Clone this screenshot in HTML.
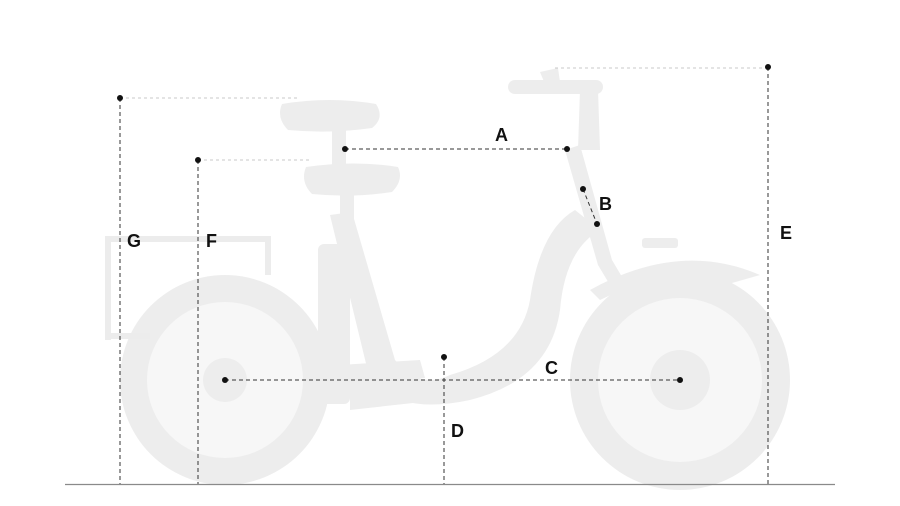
<!DOCTYPE html>
<html><head><style>
html,body{margin:0;padding:0;background:#fff;}
svg{display:block}
text{font-family:"Liberation Sans",sans-serif;font-weight:bold;font-size:18px;fill:#111}
</style></head><body>
<svg width="900" height="506" viewBox="0 0 900 506" xmlns="http://www.w3.org/2000/svg">
<g fill="#ededed" stroke="none">
  <!-- rear wheel -->
  <circle cx="225" cy="380" r="105"/>
  <!-- front wheel -->
  <circle cx="680" cy="380" r="110"/>
  <!-- front fender -->
  <path d="M590 290 Q680 240 760 275 L725 285 Q670 265 600 300 Z"/>
  <!-- battery -->
  <rect x="318" y="244" width="32" height="160" rx="6"/>
  <!-- frame -->
  <path d="M330 215 L352 212 L395 360 Q420 390 450 375 Q520 355 530 300 Q540 230 575 210 L600 230 Q565 250 560 310 Q550 380 470 400 Q400 415 370 380 Z"/>
  <path d="M350 380 L440 385 L440 400 L350 410 Z"/>
  <path d="M225 372 L420 360 L425 378 L225 390 Z"/>
  <!-- head tube / fork -->
  <path d="M565 150 L580 145 L612 260 L680 375 L670 385 L598 265 Z"/>
  <path d="M580 90 L598 90 L600 150 L578 150 Z"/>
  <!-- handlebar -->
  <rect x="508" y="80" width="95" height="14" rx="7"/>
  <path d="M540 72 L558 68 L560 82 L545 84 Z"/>
  <rect x="642" y="238" width="36" height="10" rx="3"/>
  <!-- seats -->
  <path d="M282 104 Q330 96 376 104 Q385 118 372 128 Q330 134 288 130 Q276 118 282 104 Z"/>
  <path d="M306 167 Q355 160 398 167 Q404 180 392 192 Q352 198 312 194 Q300 182 306 167 Z"/>
  <rect x="332" y="128" width="14" height="40"/>
  <rect x="340" y="192" width="14" height="60"/>
</g>
<g fill="#f7f7f7">
  <circle cx="225" cy="380" r="78"/>
  <circle cx="680" cy="380" r="82"/>
</g>
<g fill="#ededed">
  <circle cx="225" cy="380" r="22"/>
  <circle cx="680" cy="380" r="30"/>
</g>
<!-- rear rack outline -->
<g fill="none" stroke="#ececec" stroke-width="6">
  <path d="M108 340 L108 239 L268 239 L268 275"/>
  <line x1="108" y1="336" x2="150" y2="336"/>
</g>
<g stroke="#c8c8c8" stroke-width="1" stroke-dasharray="3,3" fill="none">
  <line x1="120" y1="98" x2="300" y2="98"/>
  <line x1="198" y1="160" x2="310" y2="160"/>
  <line x1="555" y1="68" x2="768" y2="68"/>
</g>
<g stroke="#333" stroke-width="1" stroke-dasharray="4,3" fill="none">
  <line x1="120" y1="98" x2="120" y2="484"/>
  <line x1="198" y1="160" x2="198" y2="484"/>
  <line x1="345" y1="149" x2="567" y2="149"/>
  <line x1="583" y1="189" x2="597" y2="224"/>
  <line x1="225" y1="380" x2="680" y2="380"/>
  <line x1="444" y1="357" x2="444" y2="484"/>
  <line x1="768" y1="67" x2="768" y2="484"/>
</g>
<line x1="65" y1="484.5" x2="835" y2="484.5" stroke="#8a8a8a" stroke-width="1.3"/>
<g fill="#111">
  <circle cx="120" cy="98" r="3"/>
  <circle cx="198" cy="160" r="3"/>
  <circle cx="345" cy="149" r="3"/>
  <circle cx="567" cy="149" r="3"/>
  <circle cx="583" cy="189" r="3"/>
  <circle cx="597" cy="224" r="3"/>
  <circle cx="225" cy="380" r="3"/>
  <circle cx="680" cy="380" r="3"/>
  <circle cx="444" cy="357" r="3"/>
  <circle cx="768" cy="67" r="3"/>
</g>
<text x="495" y="141">A</text>
<text x="599" y="210">B</text>
<text x="545" y="374">C</text>
<text x="451" y="437">D</text>
<text x="780" y="239">E</text>
<text x="206" y="247">F</text>
<text x="127" y="247">G</text>
</svg>
</body></html>
